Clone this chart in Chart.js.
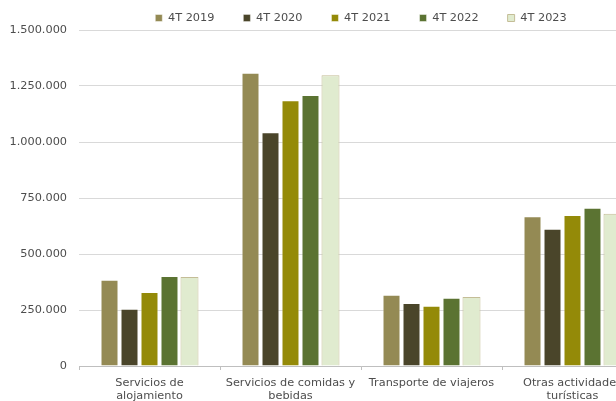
<!DOCTYPE html>
<html>
<head>
<meta charset="utf-8">
<script src="https://cdn.jsdelivr.net/npm/chart.js@4"></script>
<style>
html,body{margin:0;padding:0;background:#fff;overflow:hidden;width:616px;height:401px;}
canvas{display:block;}
</style>
</head>
<body>
<canvas id="c" width="650" height="401"></canvas>
<script>
const categories = [["Servicios de","alojamiento"],["Servicios de comidas y","bebidas"],["Transporte de viajeros"],["Otras actividades","turísticas"]];
const seriesNames = ["4T 2019","4T 2020","4T 2021","4T 2022","4T 2023"];
const v2019 = [385000, 1309000, 318000, 668000];
const v2020 = [256000, 1044000, 281000, 613000];
const v2021 = [330000, 1186000, 269000, 674000];
const v2022 = [402000, 1210000, 305000, 707000];
const v2023 = [397000, 1298000, 308000, 680000];
const yTicks = [0, 250000, 500000, 750000, 1000000, 1250000, 1500000];

const fills = ["#948a54","#4a452a","#948a08","#5b7332","#e0ebcf"];
const borders = ["rgba(255,255,255,0.45)","rgba(255,255,255,0.35)","rgba(255,255,255,0.45)","rgba(255,255,255,0.45)","#c4bd97"];
const values = [v2019, v2020, v2021, v2022, v2023];

Chart.defaults.font.family = "'DejaVu Sans', Verdana, sans-serif";
Chart.defaults.font.size = 11.3;
Chart.defaults.color = "#4d4d4d";

const fmt = v => String(v).replace(/\B(?=(\d{3})+(?!\d))/g, ".");

new Chart(document.getElementById('c'), {
  type: 'bar',
  data: {
    labels: categories,
    datasets: seriesNames.map((n, i) => ({
      label: n,
      data: values[i],
      backgroundColor: fills[i],
      borderColor: borders[i],
      borderWidth: 1,
      categoryPercentage: 0.709,
      barPercentage: 0.9
    }))
  },
  options: {
    responsive: false,
    animation: false,
    devicePixelRatio: 1,
    layout: { padding: { top: -16.65, right: 7, left: 0, bottom: 0 } },
    plugins: {
      tooltip: { enabled: false },
      legend: {
        position: 'top',
        fullSize: false,
        maxHeight: 46.65,
        labels: { boxWidth: 7, boxHeight: 7, padding: 29, color: "#4d4d4d" }
      }
    },
    scales: {
      x: {
        grid: { display: true, drawOnChartArea: false, drawTicks: true, tickLength: 4, color: "#bfbfbf", offset: true },
        border: { display: true, color: "#bfbfbf" },
        ticks: { padding: 6, maxRotation: 0, autoSkip: false, font: { lineHeight: 1.2 } },
        afterFit: s => { s.height = 35; }
      },
      y: {
        min: 0, max: 1500000,
        afterBuildTicks: s => { s.ticks = yTicks.map(v => ({ value: v })); },
        grid: { color: "#d9d9d9", drawTicks: false },
        border: { display: false },
        ticks: { padding: 12, callback: v => fmt(v) },
        afterFit: s => { s.width = 79; }
      }
    }
  }
});
</script>
</body>
</html>
